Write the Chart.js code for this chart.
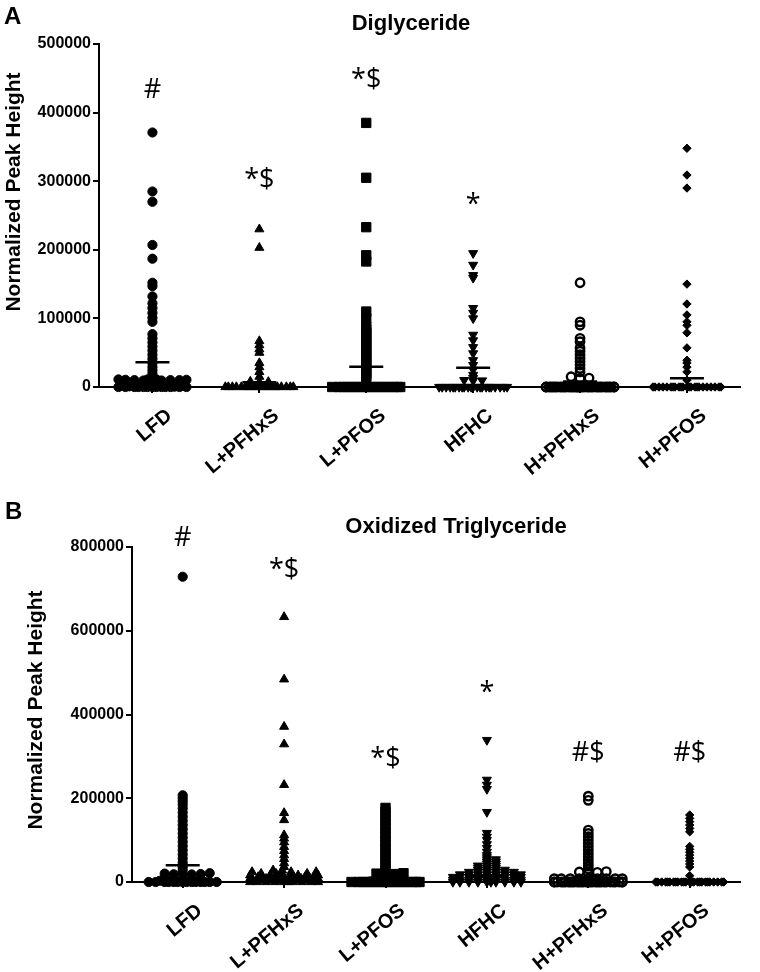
<!DOCTYPE html>
<html>
<head>
<meta charset="utf-8">
<script src="https://cdn.jsdelivr.net/npm/chart.js@4.4.1/dist/chart.umd.min.js"></script>
<style>
  body { margin: 0; background: #fff; }
  canvas { position: absolute; left: 0; }
  #chart-a { top: 0; }
  #chart-b { top: 486px; }
</style>
</head>
<body>
<canvas id="chart-a" width="760" height="486"></canvas>
<canvas id="chart-b" width="760" height="486"></canvas>
<script>
// --- Data ---
const groups = ['LFD', 'L+PFHxS', 'L+PFOS', 'HFHC', 'H+PFHxS', 'H+PFOS'];

// A: Diglyceride
const dgLFD = [371000, 285000, 270000, 207000, 187000, 152000, 147000, 132000, 122000, 115000, 108000, 101000, 95000,
  77000, 71000, 65000, 59000, 53000, 47000, 41000, 35000, 29000, 24000, 19000, 15000,
  11000, 11000, 11000, 10500, 10500, 10000, 10000, 10000, 9500, 9500, 9000,
  3000, 2000, 1500, 1000, 500, 0, 0, 0, 0, 0, 0, 0, 0, 0, 0, 0, 0, 0];
const dgLPFHxS = [230000, 203000, 67000, 61000, 55000, 50000, 35000, 29000, 22000, 15000, 8000, 7500, 7000,
  0, 0, 0, 0, 0, 0, 0, 0, 0, 0, 0, 0, 0, 0, 0, 0, 0, 0, 0, 0, 0];
const dgLPFOS = [385000, 305000, 233000, 192000, 183000, 110000, 100000, 88000, 84000, 80000, 76000, 72000, 68000,
  64000, 60000, 56000, 52000, 48000, 44000, 40000, 36000, 32000, 28000, 24000, 20000, 16000, 12000,
  0, 0, 0, 0, 0, 0, 0, 0, 0, 0, 0, 0, 0, 0, 0, 0];
const dgHFHC = [195000, 178000, 163000, 159000, 115000, 108000, 100000, 76000, 68000, 58000, 49000, 39000, 32000,
  25000, 17500, 13000, 10000, 9500, 9000,
  0, 0, 0, 0, 0, 0, 0, 0, 0, 0, 0, 0, 0, 0, 0, 0, 0, 0, 0, 0, 0, 0];
const dgHPFHxS = [152000, 95000, 90000, 71000, 66000, 57000, 52000, 47000, 42000, 37000, 32000, 27000, 22000,
  15000, 13000, 12500, 0, 0, 0, 0, 0, 0, 0, 0, 0, 0, 0, 0, 0, 0, 0, 0, 0, 0, 0, 0, 0, 0, 0, 0,
  0, 0, 0, 0, 0, 0, 0, 0, 0, 0];
const dgHPFOS = [348000, 309000, 290000, 150000, 121000, 105000, 95000, 90000, 79000, 57000, 39000, 35000, 29000,
  22000, 10000, 0, 0, 0, 0, 0, 0, 0, 0, 0, 0, 0, 0, 0, 0, 0, 0, 0, 0, 0, 0, 0, 0, 0];
const dgMeans = [36000, 7000, 29500, 28000, 8000, 12700];
const dgMarks = ['#', '*$', '*$', '*', '', ''];
const dgMarkY = [433000, 302000, 447000, 265000, 0, 0];
const dgTicks = [0, 100000, 200000, 300000, 400000, 500000];

// B: Oxidized Triglyceride
const otLFD = [729000, 207000, 200000, 193000, 185000, 176000, 166000, 156000, 146000, 136000, 126000, 116000, 106000,
  96000, 86000, 76000, 66000, 56000, 46000, 36000, 28000, 21000, 20000, 19000, 18500, 18000, 18000,
  9000, 8000, 7000, 6000, 5000, 3000, 0, 0, 0, 0, 0, 0, 0, 0, 0, 0, 0, 0, 0, 0];
const otLPFHxS = [633000, 484000, 371000, 329000, 232000, 165000, 148000, 112000, 104000, 95000, 84000, 74000, 64000,
  55000, 45000, 36000, 28000, 28000, 24000, 24000, 24000, 20000, 20000, 20000, 20000,
  16000, 16000, 16000, 16000, 16000, 12000, 12000, 12000, 12000, 12000, 12000,
  8000, 8000, 8000, 8000, 8000, 8000, 8000, 8000, 4000, 4000, 4000, 4000, 4000, 4000, 4000, 4000,
  0, 0, 0, 0, 0, 0, 0, 0, 0, 0];
const otLPFOS = [177000, 168000, 158000, 148000, 138000, 128000, 118000, 108000, 98000, 88000, 78000, 68000, 58000,
  48000, 38000, 28000, 21000, 20000, 19000, 18000, 0, 0, 0, 0, 0, 0, 0, 0, 0, 0, 0, 0, 0, 0, 0, 0];
const otHFHC = [339000, 244000, 232000, 222000, 167000, 117000, 108000, 100000, 90000, 81000, 72000, 64000,
  59000, 54000, 54000, 49000, 49000, 44000, 44000, 39000, 39000, 39000, 34000, 34000, 34000,
  29000, 29000, 29000, 29000, 24000, 24000, 24000, 24000, 24000, 24000,
  18000, 18000, 18000, 18000, 18000, 18000, 18000, 18000,
  12000, 12000, 12000, 12000, 12000, 12000, 12000, 12000, 12000, 12000,
  5000, 5000, 5000, 5000, 5000, 5000, 5000, 5000, 5000, 5000, 0, 0, 0, 0, 0, 0, 0, 0, 0, 0];
const otHPFHxS = [205000, 195000, 124000, 116000, 108000, 100000, 92000, 84000, 76000, 68000, 60000, 52000, 45000,
  38000, 31000, 25000, 24000, 23000, 22000, 8000, 8000, 8000, 8000, 8000, 8000, 8000, 8000, 8000, 8000,
  0, 0, 0, 0, 0, 0, 0, 0, 0, 0, 0, 0, 0, 0, 0, 0, 0, 0, 0, 0, 0, 0, 0, 0, 0, 0, 0, 0, 0, 0];
const otHPFOS = [160000, 152000, 144000, 136000, 128000, 120000, 85000, 78000, 71000, 64000, 57000, 50000, 43000,
  36000, 15000, 0, 0, 0, 0, 0, 0, 0, 0, 0, 0, 0, 0, 0, 0, 0, 0, 0, 0, 0, 0, 0, 0, 0, 0, 0];
const otMeans = [40000, 12000, 10000, 15000, 10000, 5000];
const otMarks = ['#', '*$', '*$', '*', '#$', '#$'];
const otMarkY = [821000, 745000, 294000, 451000, 308000, 308000];
const otTicks = [0, 200000, 400000, 600000, 800000];

// --- Marker styles per group ---
const FONT = '"Liberation Sans", Arial, sans-serif';
const markers = [
  { style: 'circle', radius: 4.6, rotation: 0, fill: '#000', border: 1, width: 9 },
  { style: 'triangle', radius: 5.2, rotation: 0, fill: '#000', border: 1, width: 9 },
  { style: 'rect', radius: 6.6, rotation: 0, fill: '#000', border: 1, width: 9 },
  { style: 'triangle', radius: 5.2, rotation: 180, fill: '#000', border: 1, width: 9 },
  { style: 'circle', radius: 4.2, rotation: 0, fill: 'rgba(0,0,0,0)', border: 2.4, width: 9 },
  { style: 'rectRot', radius: 4.2, rotation: 0, fill: '#000', border: 1, width: 8 }
];

// --- Text plugin: panel letter, title, y title, significance marks ---
const panelText = {
  id: 'panelText',
  afterDraw(chart, args, o) {
    const ctx = chart.ctx;
    const xs = chart.scales.x, ys = chart.scales.y;
    ctx.save();
    ctx.fillStyle = '#000';
    ctx.textAlign = 'left';
    ctx.textBaseline = 'alphabetic';
    ctx.font = 'bold 24px ' + FONT;
    ctx.fillText(o.letter, o.letterX, o.letterY);
    ctx.textAlign = 'center';
    ctx.font = 'bold 22px ' + FONT;
    ctx.fillText(o.title, o.titleX, o.titleY);

    ctx.save();
    ctx.translate(o.yTitleX, o.yTitleY);
    ctx.rotate(-Math.PI / 2);
    ctx.textBaseline = 'middle';
    ctx.font = 'bold 21px ' + FONT;
    ctx.fillText('Normalized Peak Height', 0, 0);
    ctx.restore();

    ctx.font = '27px "Open Sans", "Noto Sans", sans-serif';
    ctx.textBaseline = 'middle';
    o.marks.forEach((m, i) => {
      if (m) ctx.fillText(m, xs.getPixelForValue(i), ys.getPixelForValue(o.markY[i]));
    });
    ctx.restore();
  }
};

function makeChart(canvasId, series, means, ticks, yMax, box, text) {
  const datasets = [{
    label: 'mean',
    data: means.map((m, i) => ({ x: i, y: m })),
    pointStyle: 'line',
    radius: 17,
    borderWidth: 2.6,
    borderColor: '#000',
    order: 0,
    clip: false
  }];
  series.forEach((vals, g) => {
    const mk = markers[g];
    datasets.push({
      label: groups[g],
      data: vals.map(v => ({ x: g, y: v })),
      pointStyle: mk.style,
      radius: mk.radius,
      rotation: mk.rotation,
      backgroundColor: mk.fill,
      borderColor: '#000',
      borderWidth: mk.border,
      order: 1,
      clip: false
    });
  });

  const chart = new Chart(document.getElementById(canvasId), {
    type: 'scatter',
    data: { datasets },
    plugins: [panelText],
    options: {
      responsive: false,
      animation: false,
      layout: { padding: { left: 0, right: box.right, top: box.top, bottom: 0 } },
      plugins: {
        legend: { display: false },
        tooltip: { enabled: false },
        panelText: text
      },
      scales: {
        x: {
          type: 'linear',
          min: -0.5,
          max: 5.5,
          afterBuildTicks: s => { s.ticks = groups.map((g, i) => ({ value: i })); },
          afterFit: s => { s.height = box.xHeight; },
          ticks: {
            callback: v => groups[v],
            autoSkip: false,
            maxRotation: 40,
            minRotation: 40,
            color: '#000',
            padding: 11,
            labelOffset: 17,
            font: { family: FONT, size: 20, weight: 'bold' }
          },
          grid: { drawOnChartArea: false, drawTicks: true, tickLength: 6, color: '#000', lineWidth: 2 },
          border: { color: '#000', width: 2 }
        },
        y: {
          min: 0,
          max: yMax,
          afterBuildTicks: s => { s.ticks = ticks.map(v => ({ value: v })); },
          afterFit: s => { s.width = box.yWidth; },
          ticks: {
            callback: v => String(v),
            color: '#000',
            padding: 2,
            font: { family: FONT, size: 16, weight: 'bold' }
          },
          grid: { drawOnChartArea: false, drawTicks: true, tickLength: 6, color: '#000', lineWidth: 2 },
          border: { color: '#000', width: 2 }
        }
      }
    }
  });

  // spread overlapping points sideways (scatter dot plot); when a row is full,
  // extra points go into the gaps between the ones already placed
  const xs = chart.scales.x, ys = chart.scales.y;
  const unit = xs.getPixelForValue(1) - xs.getPixelForValue(0);
  const half = 34;
  const dyT = 2;
  series.forEach((vals, g) => {
    const w = markers[g].width;
    const placed = [];
    const order = vals.map((v, i) => i).sort((a, b) => vals[a] - vals[b]);
    const out = datasets[g + 1].data;
    order.forEach(i => {
      const py = ys.getPixelForValue(vals[i]);
      let best = 0, bestCost = Infinity;
      for (let k = 0; k <= 2 * half; k++) {
        const off = k % 2 ? (k + 1) / 2 : -k / 2;
        let cost = 0;
        placed.forEach(q => {
          const dx = Math.abs(q.dx - off);
          if (Math.abs(q.py - py) < dyT && dx < w) cost += (w - dx) * (w - dx);
        });
        if (cost < bestCost - 0.01) { bestCost = cost; best = off; }
        if (cost === 0) break;
      }
      placed.push({ dx: best, py });
      out[i] = { x: g + best / unit, y: vals[i] };
    });
  });
  chart.update('none');
  return chart;
}

makeChart('chart-a',
  [dgLFD, dgLPFHxS, dgLPFOS, dgHFHC, dgHPFHxS, dgHPFOS], dgMeans, dgTicks, 500000,
  { right: 18, top: 44, xHeight: 99, yWidth: 99 },
  { letter: 'A', letterX: 4, letterY: 24, title: 'Diglyceride', titleX: 411, titleY: 30,
    yTitleX: 14, yTitleY: 192, marks: dgMarks, markY: dgMarkY });

makeChart('chart-b',
  [otLFD, otLPFHxS, otLPFOS, otHFHC, otHPFHxS, otHPFOS], otMeans, otTicks, 800000,
  { right: 4, top: 61, xHeight: 90, yWidth: 132 },
  { letter: 'B', letterX: 5, letterY: 33, title: 'Oxidized Triglyceride', titleX: 456, titleY: 47,
    yTitleX: 36, yTitleY: 224, marks: otMarks, markY: otMarkY });
</script>
</body>
</html>
